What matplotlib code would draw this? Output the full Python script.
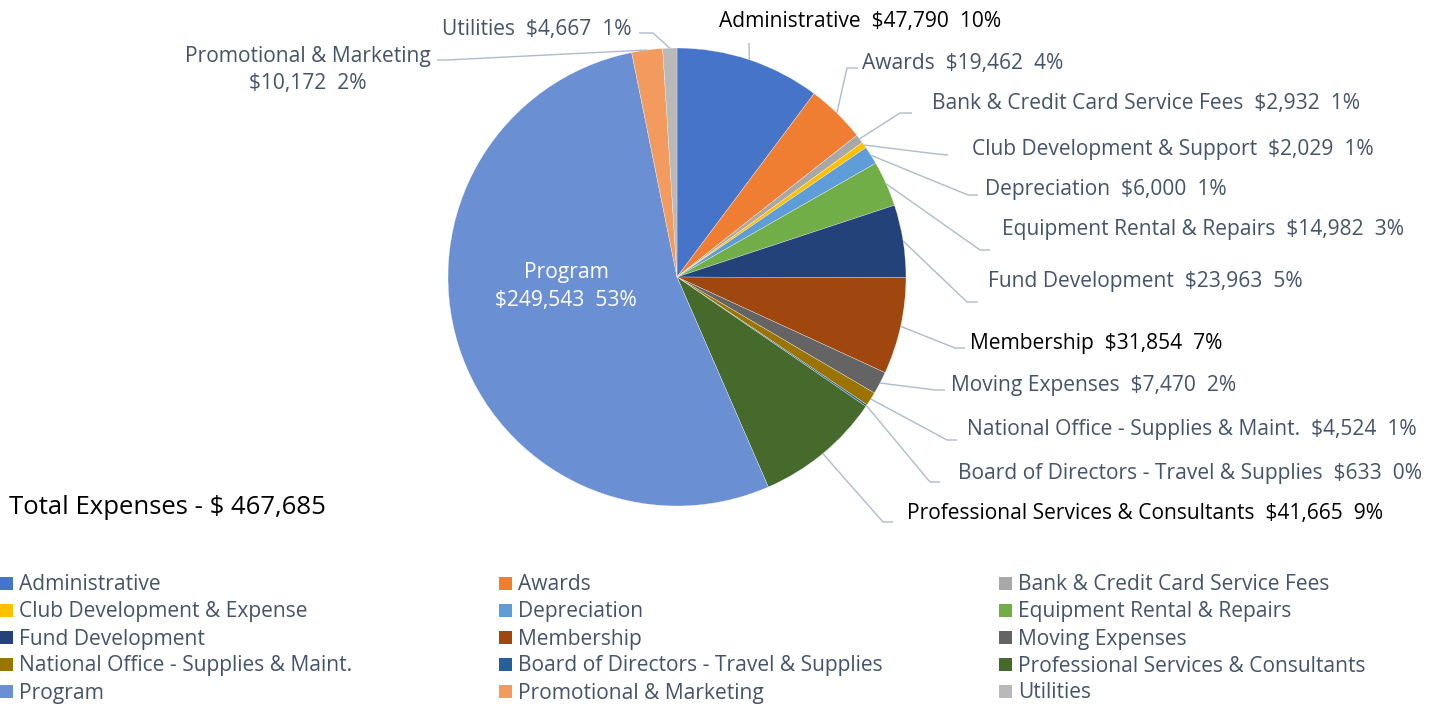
import numpy as np
import matplotlib
matplotlib.use("Agg")
import matplotlib.pyplot as plt
from matplotlib.patches import Rectangle

# ---------------- data ----------------
categories = ["Administrative", "Awards", "Bank & Credit Card Service Fees",
              "Club Development & Expense", "Depreciation", "Equipment Rental & Repairs",
              "Fund Development", "Membership", "Moving Expenses",
              "National Office - Supplies & Maint.", "Board of Directors - Travel & Supplies",
              "Professional Services & Consultants", "Program", "Promotional & Marketing",
              "Utilities"]
label_names = ["Administrative", "Awards", "Bank & Credit Card Service Fees",
               "Club Development & Support", "Depreciation", "Equipment Rental & Repairs",
               "Fund Development", "Membership", "Moving Expenses",
               "National Office - Supplies & Maint.", "Board of Directors - Travel & Supplies",
               "Professional Services & Consultants", "Program", "Promotional & Marketing",
               "Utilities"]
values = [47790, 19462, 2932, 2029, 6000, 14982, 23963, 31854, 7470, 4524, 633,
          41665, 249543, 10172, 4667]
percents = [10, 4, 1, 1, 1, 3, 5, 7, 2, 1, 0, 9, 53, 2, 1]
total_text = "Total Expenses - $ 467,685"

colors = ["#4674C9", "#EF7E33", "#A8A8A8", "#FFC000", "#5E9DD8", "#72AE48",
          "#24427A", "#A0470F", "#646464", "#9A7300", "#25609A", "#456A2C",
          "#6A8FD3", "#F39B5E", "#B9B9B9"]

# ---------------- layout (pixel space, y measured from top) ----------------
W, H = 1439, 704
CX, CY, R = 677, 277, 229
GRAY = "#44546A"
LEADER = "#AEBBCC"

# per label: text x, text y, ha, text colour, elbow (x,y), end (x,y)
label_layout = [
    (719, 19, "left", "black", (749, 43), (749, 43)),
    (862, 61, "left", GRAY, (847, 68), (858, 68)),
    (932, 102, "left", GRAY, (900, 113), (912, 113)),
    (972, 148, "left", GRAY, (937, 154), (948, 155)),
    (985, 188, "left", GRAY, (968, 195), (978, 195)),
    (1002, 228, "left", GRAY, (980, 250), (990, 250)),
    (988, 280, "left", GRAY, (967, 302), (978, 302)),
    (970, 342, "left", "black", (955, 348), (965, 348)),
    (951, 383, "left", GRAY, (935, 390), (945, 390)),
    (967, 427, "left", GRAY, (947, 440), (957, 440)),
    (958, 472, "left", GRAY, (930, 482), (940, 482)),
    (907, 512, "left", "black", (883, 522), (893, 522)),
    (566, 284.5, "center", "white", None, None),
    (308, 68, "center", GRAY, (447, 60), (437, 60)),
    (632, 27, "right", GRAY, (653, 33), (639, 33)),
]

FONT = "Open Sans"
FS = 15.1
DY = 2  # vertical nudge of text (px)

def Y(y):
    return H - y

fig = plt.figure(figsize=(W / 100, H / 100), dpi=100)
ax = fig.add_axes([0, 0, 1, 1])

wedges, _ = ax.pie(values, colors=colors, startangle=90, counterclock=False,
                   center=(CX, Y(CY)), radius=R,
                   wedgeprops=dict(edgecolor="white", linewidth=0.2))
ax.set_xlim(0, W)
ax.set_ylim(0, H)
ax.set_aspect("equal")
ax.axis("off")

vals = np.array(values, dtype=float)
cum = np.cumsum(vals) / vals.sum()
start = np.concatenate([[0], cum[:-1]])
mid = (start + cum) / 2

for i, (tx, ty, ha, col, elbow, end) in enumerate(label_layout):
    name = label_names[i]
    amount = f"${values[i]:,}"
    pct = f"{percents[i]}%"
    if i == 12 or i == 13:
        txt = f"{name}\n{amount}  {pct}"
    else:
        txt = f"{name}  {amount}  {pct}"
    ax.text(tx, Y(ty + DY), txt, ha=ha, va="center", color=col, fontsize=FS,
            family=FONT, linespacing=1.4, multialignment="center")
    if elbow is not None:
        ang = np.deg2rad(90 - 360 * mid[i])
        ex = CX + R * np.cos(ang)
        ey = Y(CY) + R * np.sin(ang)
        ax.plot([ex, elbow[0], end[0]], [ey, Y(elbow[1]), Y(end[1])],
                color=LEADER, lw=1.0, solid_capstyle="butt", zorder=1)

ax.text(9, Y(505 + DY), total_text, ha="left", va="center", color="black",
        fontsize=18.5, family=FONT)

# legend (manual 3-column grid)
col_x = [0, 499, 999]
row_y0, row_dy = 583, 27
sq = 13
for i, name in enumerate(categories):
    r, c = divmod(i, 3)
    yy = row_y0 + r * row_dy
    ax.add_patch(Rectangle((col_x[c], Y(yy) - sq / 2), sq, sq,
                           facecolor=colors[i], edgecolor="none"))
    ax.text(col_x[c] + 19, Y(yy + DY), name, ha="left", va="center", color=GRAY,
            fontsize=FS, family=FONT)

fig.savefig("out.png", dpi=100)
